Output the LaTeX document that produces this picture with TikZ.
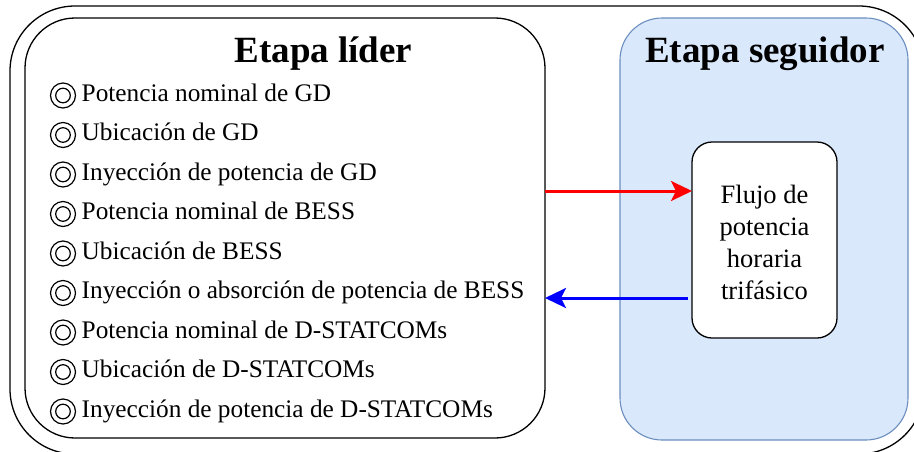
\documentclass[tikz,border=0pt]{standalone}
\usepackage{fontspec}
\setmainfont{Liberation Serif}
\usetikzlibrary{arrows.meta}
\definecolor{panelfill}{HTML}{DAE8FC}
\definecolor{panelline}{HTML}{6C8EBF}
\definecolor{arrred}{HTML}{FF0000}
\definecolor{arrblue}{HTML}{0000FF}

\tikzset{
  frame/.style={draw=black, line width=1.3pt, inner sep=0pt, outer sep=0pt},
  titletext/.style={font=\bfseries\fontsize{37}{40}\selectfont, anchor=base, inner sep=0pt},
  itemtext/.style={font=\fontsize{25.3}{30}\selectfont, anchor=base west, inner sep=0pt},
  ring/.style={circle, draw=black, line width=1.2pt, inner sep=0pt},
  flowbox/.style={frame, fill=white, rounded corners=20pt,
    minimum width=145pt, minimum height=196pt},
  link/.style={line width=3pt, -{Stealth[length=21pt, width=20pt, inset=5pt]}}
}

\begin{document}
\begin{tikzpicture}[x=1pt, y=-1pt]
\useasboundingbox (0,0) rectangle (914,451);

% outer frame holding both stages
\node[frame, rounded corners=65pt, minimum width=914pt, minimum height=448pt] (outer) at (467,230) {};

% leader stage
\node[frame, fill=white, rounded corners=50pt, minimum width=520pt, minimum height=420pt] (lider) at (285,228) {};
\node[titletext] (tl) at (323.5,62) {Etapa líder};

% follower stage
\node[draw=panelline, line width=1.1pt, fill=panelfill, rounded corners=42pt,
      minimum width=288pt, minimum height=422pt, inner sep=0pt] (seguidor) at (764,229) {};
\node[titletext] (ts) at (765,62) {Etapa seguidor};

% decision variables of the leader stage, each with a double-ring bullet
\foreach \i/\txt in {
  1/Potencia nominal de GD,
  2/Ubicación de GD,
  3/Inyección de potencia de GD,
  4/Potencia nominal de BESS,
  5/Ubicación de BESS,
  6/Inyección o absorción de potencia de BESS,
  7/Potencia nominal de D-STATCOMs,
  8/Ubicación de D-STATCOMs,
  9/Inyección de potencia de D-STATCOMs}{
  \node[ring, minimum size=25pt] (b\i) at (63,{95.5+39.5*(\i-1)}) {};
  \node[ring, minimum size=14.6pt] (c\i) at (b\i.center) {};
  \node[itemtext] (i\i) at (81.5,{101+39.5*(\i-1)}) {\txt};
}

% lower-level problem
\node[flowbox] (flujo) at (764.5,240) {};
\node[align=center, font=\fontsize{26.5}{32}\selectfont, inner sep=0pt] (flujotxt) at (764.5,242.5)
  {Flujo de\\potencia\\horaria\\trifásico};

% information exchanged between the stages
\coordinate (yr) at (0,191);
\coordinate (yb) at (0,298);
\draw[link, draw=arrred, fill=arrred] (lider.east |- yr) -- (flujo.west |- yr);
\draw[link, draw=arrblue, fill=arrblue] ([xshift=-4pt]flujo.west |- yb) -- (lider.east |- yb);
\end{tikzpicture}
\end{document}
